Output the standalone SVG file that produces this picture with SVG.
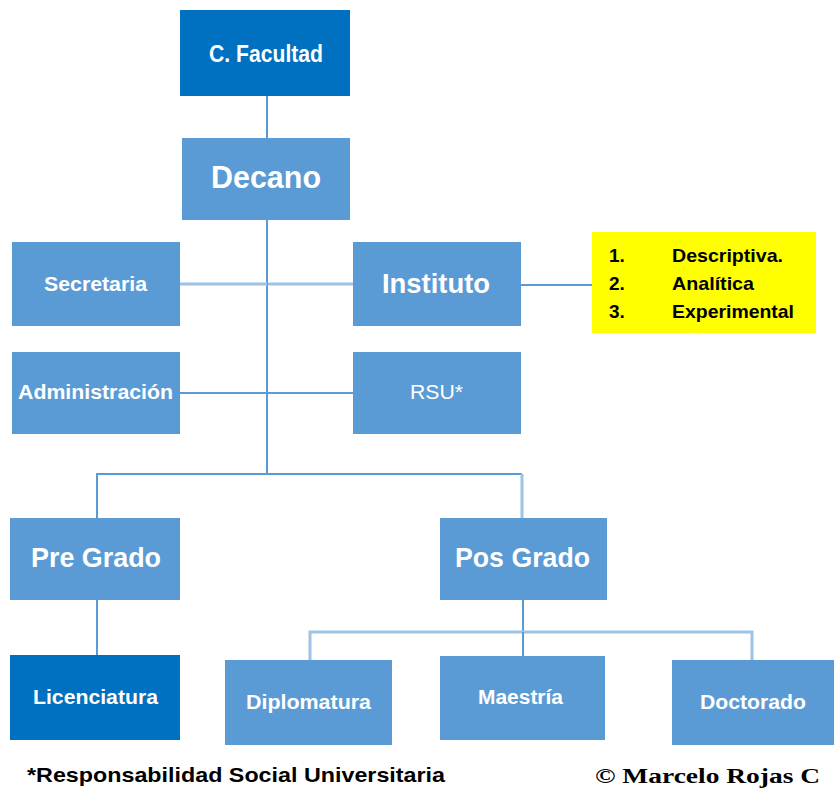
<svg xmlns="http://www.w3.org/2000/svg" width="834" height="791" viewBox="0 0 834 791">
<style>
.box{fill:#5B9BD5}
.dark{fill:#0070C0}
.t{font-family:"Liberation Sans Narrow","Liberation Sans",Arial,sans-serif;fill:#fff;font-weight:bold;text-anchor:start}
.y{font-family:"Liberation Sans Narrow","Liberation Sans",Arial,sans-serif;fill:#000;font-weight:bold;font-size:19px}
.ln{stroke:#5B9BD5;stroke-width:2;fill:none}
.lt{stroke:#9DC3E6;stroke-width:3;fill:none}
</style>
<rect width="834" height="791" fill="#fff"/>
<g id="connectors">
<path class="ln" d="M267 96V138M267 220V474"/>
<path class="lt" d="M180 284H353"/>
<path class="ln" d="M267 284H268"/>
<path class="ln" d="M521 285H592"/>
<path class="ln" d="M180 393H353"/>
<path class="ln" d="M97 518V474H522"/>
<path class="lt" d="M522 474V518"/>
<path class="ln" d="M97 600V655"/>
<path class="ln" d="M523 600V656"/>
<path class="lt" d="M310 660V632H752V660"/>
<path class="ln" d="M523 632V634"/>
</g>
<g id="cfacultad"><rect class="dark" x="180" y="10" width="170" height="86"/><text class="t" x="209" y="62" font-size="24" textLength="114" lengthAdjust="spacingAndGlyphs">C. Facultad</text></g>
<g id="decano"><rect class="box" x="182" y="138" width="168" height="82"/><text class="t" x="211" y="188" font-size="32" textLength="110" lengthAdjust="spacingAndGlyphs">Decano</text></g>
<g id="secretaria"><rect class="box" x="12" y="242" width="168" height="84"/><text class="t" x="44" y="291" font-size="20" textLength="103" lengthAdjust="spacingAndGlyphs">Secretaria</text></g>
<g id="instituto"><rect class="box" x="353" y="242" width="168" height="84"/><text class="t" x="382" y="293" font-size="28" textLength="108" lengthAdjust="spacingAndGlyphs">Instituto</text></g>
<g id="metodos"><rect x="592" y="232" width="224" height="101" fill="#FFFF00"/>
<text class="y" x="609" y="262">1.</text><text class="y" x="672" y="262" textLength="111" lengthAdjust="spacingAndGlyphs">Descriptiva.</text>
<text class="y" x="609" y="290">2.</text><text class="y" x="672" y="290" textLength="82" lengthAdjust="spacingAndGlyphs">Analítica</text>
<text class="y" x="609" y="318">3.</text><text class="y" x="672" y="318" textLength="122" lengthAdjust="spacingAndGlyphs">Experimental</text></g>
<g id="administracion"><rect class="box" x="12" y="352" width="168" height="82"/><text class="t" x="18" y="399" font-size="20" textLength="155" lengthAdjust="spacingAndGlyphs">Administración</text></g>
<g id="rsu"><rect class="box" x="353" y="352" width="168" height="82"/><text class="t" x="410" y="399" font-size="20" font-weight="normal" style="font-weight:normal" textLength="53" lengthAdjust="spacingAndGlyphs">RSU*</text></g>
<g id="pregrado"><rect class="box" x="10" y="518" width="170" height="82"/><text class="t" x="31" y="567" font-size="28" textLength="130" lengthAdjust="spacingAndGlyphs">Pre Grado</text></g>
<g id="posgrado"><rect class="box" x="440" y="518" width="167" height="82"/><text class="t" x="455" y="567" font-size="28" textLength="135" lengthAdjust="spacingAndGlyphs">Pos Grado</text></g>
<g id="licenciatura"><rect class="dark" x="10" y="655" width="170" height="85"/><text class="t" x="33" y="704" font-size="20" textLength="125" lengthAdjust="spacingAndGlyphs">Licenciatura</text></g>
<g id="diplomatura"><rect class="box" x="225" y="660" width="167" height="85"/><text class="t" x="246" y="709" font-size="20" textLength="125" lengthAdjust="spacingAndGlyphs">Diplomatura</text></g>
<g id="maestria"><rect class="box" x="440" y="656" width="165" height="84"/><text class="t" x="478" y="704" font-size="20" textLength="85" lengthAdjust="spacingAndGlyphs">Maestría</text></g>
<g id="doctorado"><rect class="box" x="672" y="660" width="162" height="85"/><text class="t" x="700" y="709" font-size="20" textLength="106" lengthAdjust="spacingAndGlyphs">Doctorado</text></g>
<text x="27" y="782" font-family="'Liberation Sans Narrow','Liberation Sans',Arial,sans-serif" font-weight="bold" font-size="21" fill="#000" textLength="418" lengthAdjust="spacingAndGlyphs">*Responsabilidad Social Universitaria</text>
<text x="595" y="783" font-family="'Liberation Serif','Times New Roman',serif" font-weight="bold" font-size="21" fill="#000" textLength="225" lengthAdjust="spacingAndGlyphs">© Marcelo Rojas C</text>
</svg>
